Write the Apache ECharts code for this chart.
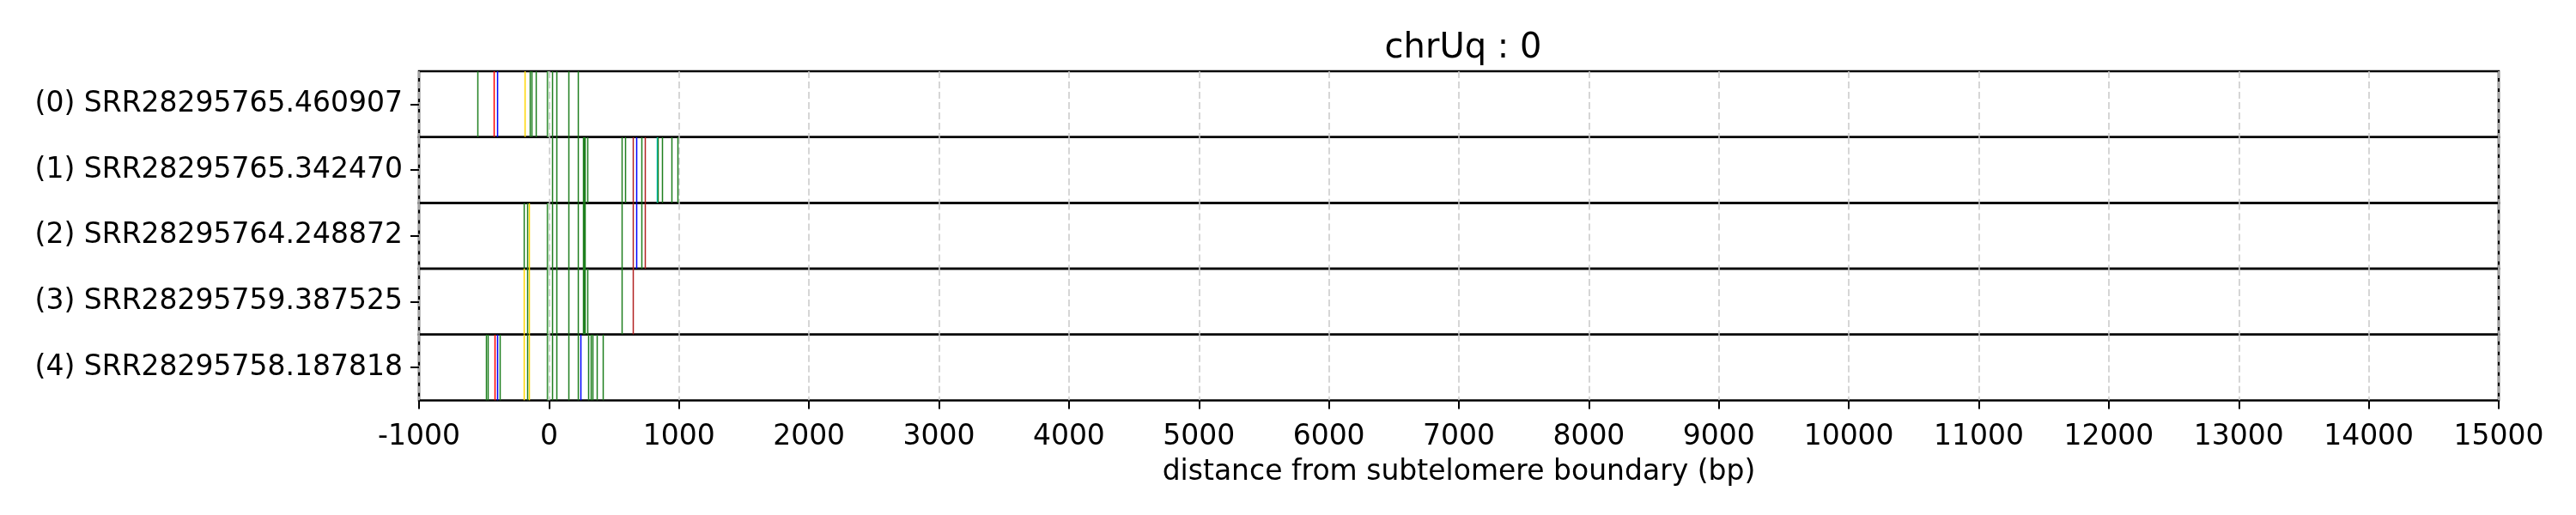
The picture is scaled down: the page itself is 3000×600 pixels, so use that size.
<!DOCTYPE html>
<html style="height: 100%">
<head>
    <meta charset="utf-8">
    <script type="text/javascript" src="https://cdn.jsdelivr.net/npm/echarts@6/dist/echarts.min.js"></script>
</head>
<body style="height: 100%; margin: 0; background: #fff">
<div id="container" style="width: 3000px; height: 600px"></div>
<script type="text/javascript">
    // read names, top to bottom
    var readNames = [
        '(0) SRR28295765.460907',
        '(1) SRR28295765.342470',
        '(2) SRR28295764.248872',
        '(3) SRR28295759.387525',
        '(4) SRR28295758.187818'
    ];
    // x axis ticks
    var xMin = -1000, xMax = 15000, xStep = 1000;

    // marks per read: [position (bp), colour key]
    var read0 = [[-548,'g'],[-422,'r'],[-402,'b'],[-190,'y'],[-150,'g'],[-137,'g'],[-104,'g'],
        [-18,'g'],[-8,'lc'],[22,'g'],[55,'g'],[147,'g'],[220,'g']];
    var read1 = [[22,'g'],[55,'g'],[147,'g'],[220,'g'],[261,'g'],[267,'g'],[274,'g'],[293,'g'],
        [557,'g'],[584,'g'],[643,'dr'],[672,'b'],[709,'g'],[736,'dr'],[828,'c'],[837,'g'],
        [868,'g'],[941,'g'],[989,'g']];
    var read2 = [[-196,'g'],[-170,'g'],[-157,'y'],[-18,'g'],[-8,'lc'],[22,'g'],[55,'g'],[147,'g'],
        [220,'g'],[261,'g'],[267,'g'],[274,'g'],[557,'g'],[643,'dr'],[672,'b'],[709,'g'],[736,'dr']];
    var read3 = [[-196,'y'],[-170,'g'],[-157,'y'],[-18,'g'],[-8,'lc'],[22,'g'],[55,'g'],[147,'g'],
        [220,'g'],[261,'g'],[267,'g'],[274,'g'],[293,'g'],[557,'g'],[643,'dr']];
    var read4 = [[-487,'g'],[-474,'g'],[-421,'r'],[-401,'b'],[-381,'g'],[-196,'y'],[-170,'g'],[-157,'y'],
        [-18,'g'],[-8,'lc'],[22,'g'],[55,'g'],[147,'g'],[220,'g'],[240,'b'],[299,'g'],[319,'g'],
        [335,'g'],[366,'g'],[412,'g']];
    var reads = [read0, read1, read2, read3, read4];

    var colours = {
        g: '#1f7f1f', r: '#ff0000', dr: '#b22222', b: '#0000ff',
        y: '#ffd700', c: '#00cccc', lc: '#a8d4a8'
    };

    var FONT = 'DejaVu Sans';
    var plotLeft = 488, plotRight = 90, plotTop = 83, rowH = 76.7;

    var grids = [], xAxes = [], yAxes = [], series = [];
    reads.forEach(function (marks, i) {
        var last = i === reads.length - 1;
        grids.push({
            left: plotLeft, right: plotRight, top: plotTop + i * rowH, height: rowH,
            show: true, borderColor: '#000', borderWidth: 2.5, backgroundColor: 'transparent'
        });
        xAxes.push({
            type: 'value', gridIndex: i, min: xMin, max: xMax, interval: xStep,
            axisLine: {show: false, onZero: false},
            axisTick: {show: last, length: 10, lineStyle: {color: '#000', width: 2}},
            axisLabel: {
                show: last, margin: 26, color: '#000', fontFamily: FONT, fontSize: 33,
                formatter: function (v) { return String(v); }
            },
            splitLine: {show: true, lineStyle: {color: '#cccccc', width: 1.6, type: [8, 4]}},
            name: last ? 'distance from subtelomere boundary (bp)' : '',
            nameLocation: 'middle', nameGap: 67,
            nameTextStyle: {color: '#000', fontFamily: FONT, fontSize: 33}
        });
        yAxes.push({
            type: 'category', gridIndex: i, data: [readNames[i]],
            axisLine: {show: false, onZero: false},
            axisTick: {show: true, alignWithLabel: true, length: 10, lineStyle: {color: '#000', width: 2}},
            axisLabel: {margin: 19, color: '#000', fontFamily: FONT, fontSize: 33},
            splitLine: {show: false}
        });
        series.push({
            type: 'custom', xAxisIndex: i, yAxisIndex: i,
            data: marks.map(function (m) { return [m[0], 0]; }),
            encode: {x: 0, y: 1},
            clip: true,
            silent: true,
            renderItem: function (params, api) {
                var x = Math.round(api.coord([api.value(0), 0])[0]) + 0.5;
                var cs = params.coordSys;
                return {
                    type: 'line',
                    shape: {x1: x, y1: cs.y, x2: x, y2: cs.y + cs.height},
                    style: {stroke: colours[marks[params.dataIndex][1]], lineWidth: 1.5}
                };
            }
        });
    });

    var chart = echarts.init(document.getElementById('container'), null, {renderer: 'canvas'});
    chart.setOption({
        animation: false,
        backgroundColor: '#fff',
        title: {
            text: 'chrUq : 0', left: 1699, top: 32, textAlign: 'center',
            textStyle: {color: '#000', fontFamily: FONT, fontSize: 40, fontWeight: 'normal'}
        },
        grid: grids,
        xAxis: xAxes,
        yAxis: yAxes,
        series: series
    });
</script>
</body>
</html>
